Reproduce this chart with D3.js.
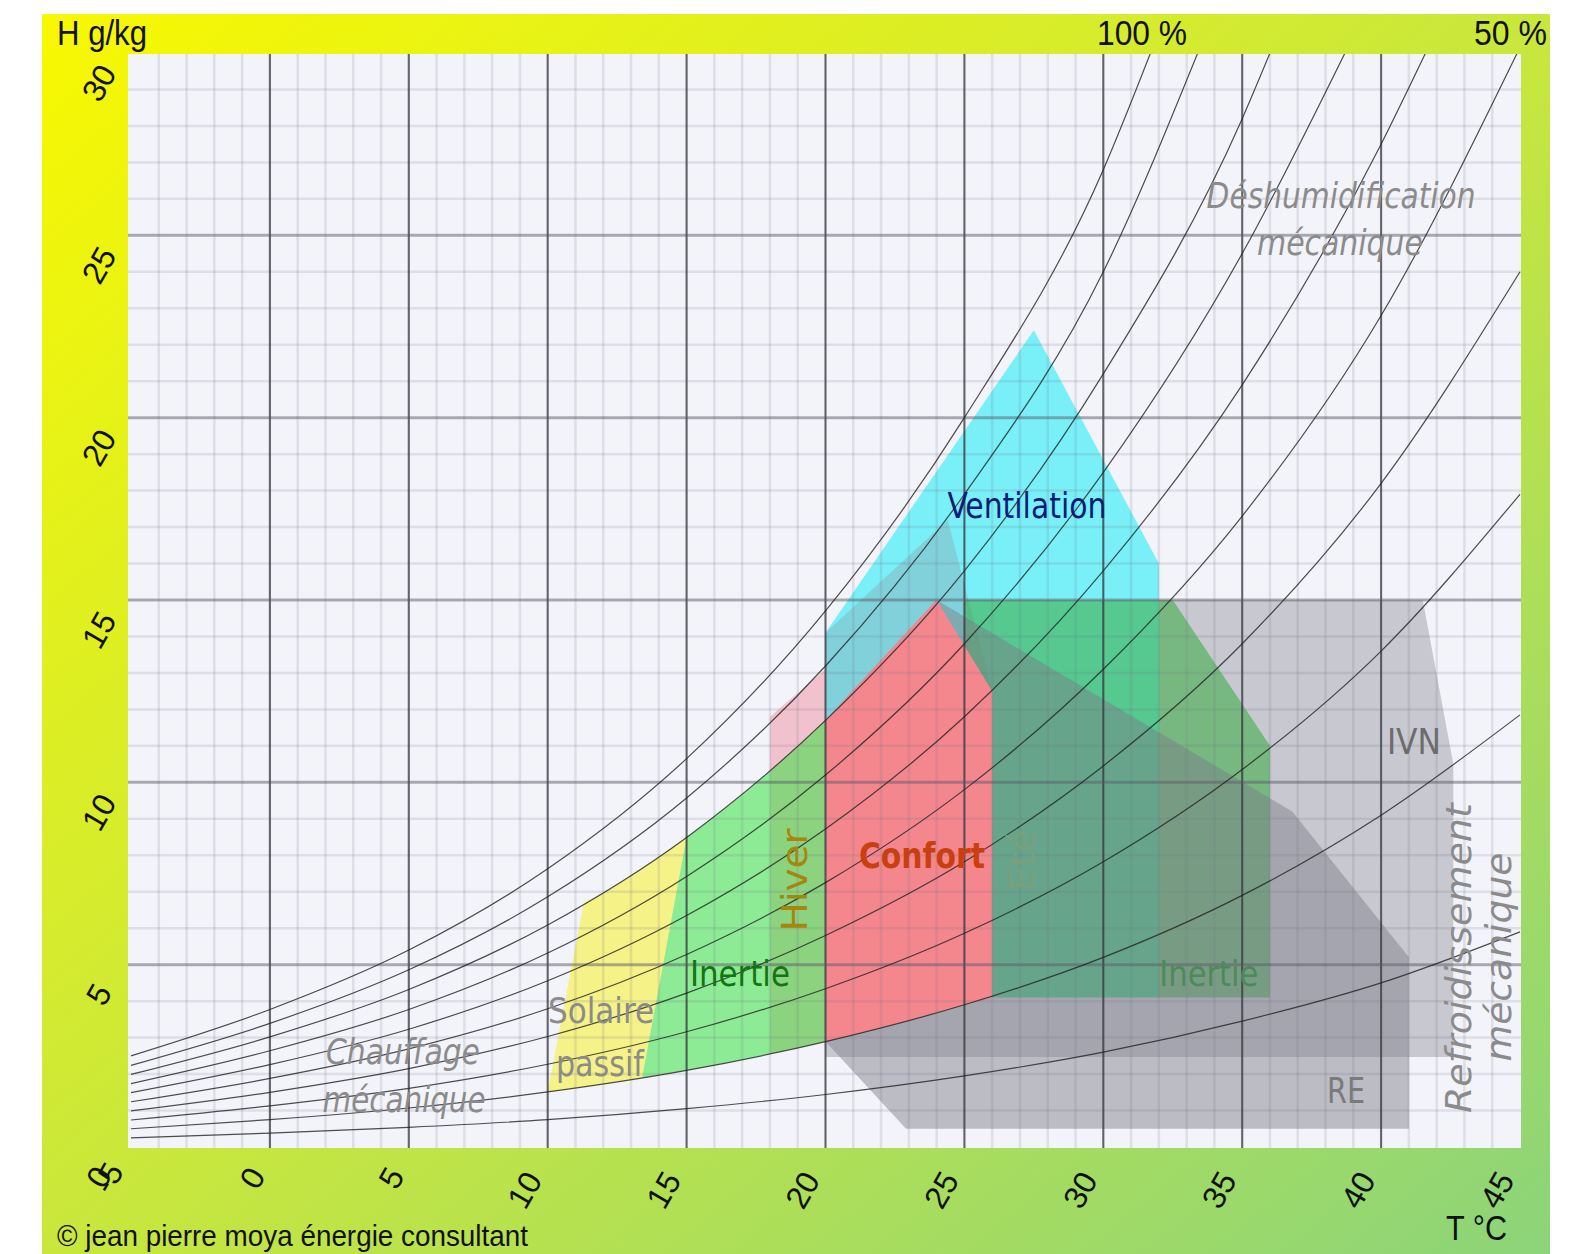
<!DOCTYPE html>
<html lang="fr">
<head>
<meta charset="UTF-8">
<title>Diagramme bioclimatique</title>
<style>
    body { margin: 0; background: #fff; }
    svg text { font-family: 'DejaVu Sans Condensed', 'DejaVu Sans', sans-serif; }
    .ax { font-family: 'Liberation Sans Narrow', 'Liberation Sans', sans-serif; fill: #111; }
</style>
</head>
<body>
<div id="chart"></div>
<script src="https://cdn.jsdelivr.net/npm/d3@7/dist/d3.min.js"></script>
<script>
    // axes
    var xTicks = [-5, 0, 5, 10, 15, 20, 25, 30, 35, 40, 45];
    var yTicks = [0, 5, 10, 15, 20, 25, 30];

    var rh100 = [[-5,2.5],[0,3.77],[5,5.4],[10,7.63],[15,10.65],[20,14.7],[25,20.0],[30,26.8],[31.7,30]];
    var rh90  = [[-5,2.24],[0,3.39],[5,4.86],[10,6.86],[15,9.57],[20,13.19],[25,17.9],[30,24.0],[33.4,30]];
    var rh80  = [[-5,1.99],[0,3.02],[5,4.32],[10,6.09],[15,8.49],[20,11.7],[25,15.8],[30,21.2],[35,28.2],[36,30]];
    var rh70  = [[-5,1.74],[0,2.64],[5,3.77],[10,5.32],[15,7.42],[20,10.2],[25,13.8],[30,18.5],[35,24.5],[38.7,30]];
    var rh60  = [[-5,1.49],[0,2.26],[5,3.23],[10,4.56],[15,6.35],[20,8.72],[25,11.8],[30,15.8],[35,20.9],[40,27.5],[41.6,30]];
    var rh50  = [[-5,1.24],[0,1.88],[5,2.69],[10,3.79],[15,5.28],[20,7.25],[25,9.8],[30,13.1],[35,17.3],[40,22.8],[44.9,30]];
    var rh40  = [[-5,0.99],[0,1.5],[5,2.15],[10,3.03],[15,4.22],[20,5.8],[25,7.82],[30,10.45],[35,13.8],[40,18.2],[45,24.0]];
    var rh30  = [[-5,0.74],[0,1.13],[5,1.61],[10,2.27],[15,3.16],[20,4.34],[25,5.86],[30,7.82],[35,10.35],[40,13.6],[45,17.9]];
    var rh20  = [[-5,0.5],[0,0.75],[5,1.07],[10,1.51],[15,2.1],[20,2.89],[25,3.9],[30,5.2],[35,6.9],[40,9.1],[45,11.85]];
    var rh10  = [[-5,0.25],[0,0.38],[5,0.54],[10,0.75],[15,1.05],[20,1.44],[25,1.95],[30,2.6],[35,3.45],[40,4.5],[45,5.9]];
    var rhCurves = [rh100, rh90, rh80, rh70, rh60, rh50, rh40, rh30, rh20, rh10];

    // zones, sommets [T, H]
    var zoneHiver = [[18,2.56],[18,11.8],[20,13.1],[20,2.89],[19,2.72]];
    var zoneSolaire = [[10,1.51],[11.3,6.7],[12,6.96],[13,7.44],[14,7.95],[15,8.49],[13.4,1.9],[12,1.73],[11,1.62]];
    var zoneInertieHiver = [[13.4,1.9],[15,8.49],[16,9.06],[17,9.66],[18,10.3],[19,10.98],[20,11.71],[20,2.89],[19,2.72],[18,2.56],[17,2.4],[16,2.25],[15,2.1],[14,1.98]];
    var zoneVentilation = [[20,11.7],[20,14.1],[27.5,22.4],[32,16],[32,4.1],[26,4.1]];
    var zoneEte = [[20,14.1],[24.4,17.2],[26,12.5],[26,4.1],[20,2.89]];
    var zoneIVN = [[20,2.47],[20,4.1],[32,4.1],[32,15],[41.5,15],[42.6,10.5],[42.6,2.47]];
    var zoneRE = [[20,11.7],[24,15],[36.8,9.2],[41,5.2],[41,0.5],[22.9,0.5],[20,2.89]];
    var zoneInertieEte = [[25,15],[32.5,15],[36,11],[36,4.1],[25,4.1]];
    var zoneConfort = [[20,2.89],[21,3.07],[22,3.26],[23,3.47],[24,3.69],[25,3.9],[26,4.1],[26,12.5],[24,15],[20,11.7]];

    var W = 1578, H = 1254;

    var x = d3.scaleLinear().domain([-5, 45]).range([131, 1520]);
    var y = d3.scaleLinear().domain([0, 30]).range([1147, 53]);

    var svg = d3.select("#chart").append("svg")
        .attr("width", W)
        .attr("height", H);

    var defs = svg.append("defs");
    var grad = defs.append("linearGradient")
        .attr("id", "bg")
        .attr("x1", 0).attr("y1", 0).attr("x2", 1).attr("y2", 1);
    grad.append("stop").attr("offset", 0).attr("stop-color", "#f8f800");
    grad.append("stop").attr("offset", 0.5).attr("stop-color", "#c9e73c");
    grad.append("stop").attr("offset", 1).attr("stop-color", "#8cd47a");

    var px0 = x(-5) - 3, px1 = x(45) + 1, py0 = y(30) + 1, py1 = y(0) + 1;

    defs.append("clipPath").attr("id", "plotClip")
        .append("rect")
        .attr("x", px0).attr("y", py0)
        .attr("width", px1 - px0).attr("height", py1 - py0);

    svg.append("rect")
        .attr("x", 42).attr("y", 14)
        .attr("width", 1508).attr("height", 1240)
        .attr("fill", "url(#bg)");

    svg.append("rect")
        .attr("x", px0).attr("y", py0)
        .attr("width", px1 - px0).attr("height", py1 - py0)
        .attr("fill", "#f3f3fa");

    var plot = svg.append("g").attr("clip-path", "url(#plotClip)");

    // zones (ordre = superposition)
    var poly = d3.line().x(function (d) { return x(d[0]); }).y(function (d) { return y(d[1]); });
    var zones = [
        {pts: zoneHiver, fill: "rgba(238,120,140,0.4)"},
        {pts: zoneSolaire, fill: "rgba(246,240,40,0.55)"},
        {pts: zoneInertieHiver, fill: "rgba(40,228,50,0.5)"},
        {pts: zoneVentilation, fill: "rgba(0,238,245,0.5)"},
        {pts: zoneEte, fill: "rgba(150,140,150,0.3)"},
        {pts: zoneIVN, fill: "rgba(128,128,138,0.37)"},
        {pts: zoneInertieEte, fill: "rgba(60,172,70,0.58)"},
        {pts: zoneRE, fill: "rgba(122,122,132,0.45)"},
        {pts: zoneConfort, fill: "#f4868e"}
    ];
    plot.selectAll(".zone")
        .data(zones)
        .enter().append("path")
        .attr("class", "zone")
        .attr("d", function (d) { return poly(d.pts) + "Z"; })
        .attr("fill", function (d) { return d.fill; });

    // grille fine
    var minorX = d3.range(-4, 45, 1), minorY = d3.range(1, 30, 1);
    plot.selectAll(".mx").data(minorX).enter().append("line")
        .attr("x1", function (d) { return x(d); }).attr("x2", function (d) { return x(d); })
        .attr("y1", py0).attr("y2", py1)
        .attr("stroke", "rgba(110,110,130,0.16)").attr("stroke-width", 2.5);
    plot.selectAll(".my").data(minorY).enter().append("line")
        .attr("y1", function (d) { return y(d); }).attr("y2", function (d) { return y(d); })
        .attr("x1", px0).attr("x2", px1)
        .attr("stroke", "rgba(110,110,130,0.16)").attr("stroke-width", 2.5);

    // grille principale
    plot.selectAll(".Mx").data(xTicks.slice(1, -1)).enter().append("line")
        .attr("x1", function (d) { return x(d); }).attr("x2", function (d) { return x(d); })
        .attr("y1", py0).attr("y2", py1)
        .attr("stroke", "rgba(50,50,55,0.72)").attr("stroke-width", 2);
    plot.selectAll(".My").data(yTicks.slice(1, -1)).enter().append("line")
        .attr("y1", function (d) { return y(d); }).attr("y2", function (d) { return y(d); })
        .attr("x1", px0).attr("x2", px1)
        .attr("stroke", "rgba(90,90,100,0.42)").attr("stroke-width", 3);

    // courbes d'humidité relative
    var line = d3.line()
        .x(function (d) { return x(d[0]); })
        .y(function (d) { return y(d[1]); })
        .curve(d3.curveMonotoneX);
    plot.selectAll(".rh").data(rhCurves).enter().append("path")
        .attr("d", line)
        .attr("fill", "none")
        .attr("stroke", "#222")
        .attr("stroke-opacity", 0.8)
        .attr("stroke-width", 1.2);

    // étiquettes des zones
    var labels = [
        {t: "Ventilation", at: [27.25, 17.58], w: 159, c: "#0b1c78"},
        {t: "Confort", at: [23.47, 7.98], w: 126, c: "#c9400e", b: true},
        {t: "Hiver", at: [18.9, 7.32], w: 103, c: "#a8860c", r: -90},
        {t: "Eté", at: [27.04, 7.87], w: 62, c: "#77a07c", r: -90},
        {t: "Inertie", at: [16.92, 4.77], w: 100, c: "#137513"},
        {t: "Inertie", at: [33.8, 4.77], w: 99, c: "#4c8a5c"},
        {t: "Solaire", at: [11.92, 3.73], w: 106, c: "#8b8b8b"},
        {t: "passif", at: [11.88, 2.3], w: 88, c: "#8b8b8b"},
        {t: "Chauffage", at: [4.79, 2.61], w: 154, c: "#8b8b8b", i: true},
        {t: "mécanique", at: [4.83, 1.29], w: 163, c: "#8b8b8b", i: true},
        {t: "Déshumidification", at: [38.56, 26.08], w: 269, c: "#8b8b8b", i: true},
        {t: "mécanique", at: [38.52, 24.79], w: 166, c: "#8b8b8b", i: true},
        {t: "IVN", at: [41.18, 11.11], w: 54, c: "#6c6c6c"},
        {t: "RE", at: [38.74, 1.56], w: 38, c: "#7a7a7a"},
        {t: "Refroidissement", at: [42.8, 5.18], w: 310, c: "#8b8b8b", i: true, r: -90},
        {t: "mécanique", at: [44.21, 5.21], w: 209, c: "#8b8b8b", i: true, r: -90}
    ];
    svg.selectAll(".lbl").data(labels).enter().append("text")
        .attr("transform", function (d) {
            return "translate(" + x(d.at[0]) + "," + y(d.at[1]) + ") rotate(" + (d.r || 0) + ")";
        })
        .attr("text-anchor", "middle")
        .attr("dominant-baseline", "central")
        .attr("font-size", 36)
        .attr("font-weight", function (d) { return d.b ? "bold" : "normal"; })
        .attr("font-style", function (d) { return d.i ? "italic" : "normal"; })
        .attr("textLength", function (d) { return d.w; })
        .attr("lengthAdjust", "spacingAndGlyphs")
        .attr("fill", function (d) { return d.c; })
        .text(function (d) { return d.t; });

    // graduations
    svg.selectAll(".yt").data(yTicks).enter().append("text")
        .attr("class", "ax")
        .attr("transform", function (d) { return "translate(99," + (y(d) + 30) + ") rotate(-60)"; })
        .attr("text-anchor", "middle")
        .attr("dominant-baseline", "central")
        .attr("font-size", 32)
        .text(function (d) { return d; });

    svg.selectAll(".xt").data(xTicks).enter().append("text")
        .attr("class", "ax")
        .attr("transform", function (d) {
            var s = String(d), n = s.replace("-", "").length;
            return "translate(" + (x(d) - 12 - 5.5 * s.length) + "," + (1178 + 12 * (n - 1)) + ") rotate(-60)";
        })
        .attr("text-anchor", "middle")
        .attr("dominant-baseline", "central")
        .attr("font-size", 32)
        .text(function (d) { return d; });

    var axisTexts = [
        {t: "H g/kg", x: 57, y: 45, w: 90},
        {t: "100 %", x: 1097, y: 45, w: 90},
        {t: "50 %", x: 1474, y: 45, w: 73},
        {t: "T °C", x: 1446, y: 1240, w: 61}
    ];
    svg.selectAll(".at").data(axisTexts).enter().append("text")
        .attr("class", "ax")
        .attr("x", function (d) { return d.x; })
        .attr("y", function (d) { return d.y; })
        .attr("font-size", 35)
        .attr("textLength", function (d) { return d.w; })
        .attr("lengthAdjust", "spacingAndGlyphs")
        .text(function (d) { return d.t; });

    svg.append("text")
        .attr("class", "ax")
        .attr("x", 57).attr("y", 1246)
        .attr("font-size", 29)
        .attr("textLength", 471)
        .attr("lengthAdjust", "spacingAndGlyphs")
        .text("© jean pierre moya énergie consultant");
</script>
</body>
</html>
